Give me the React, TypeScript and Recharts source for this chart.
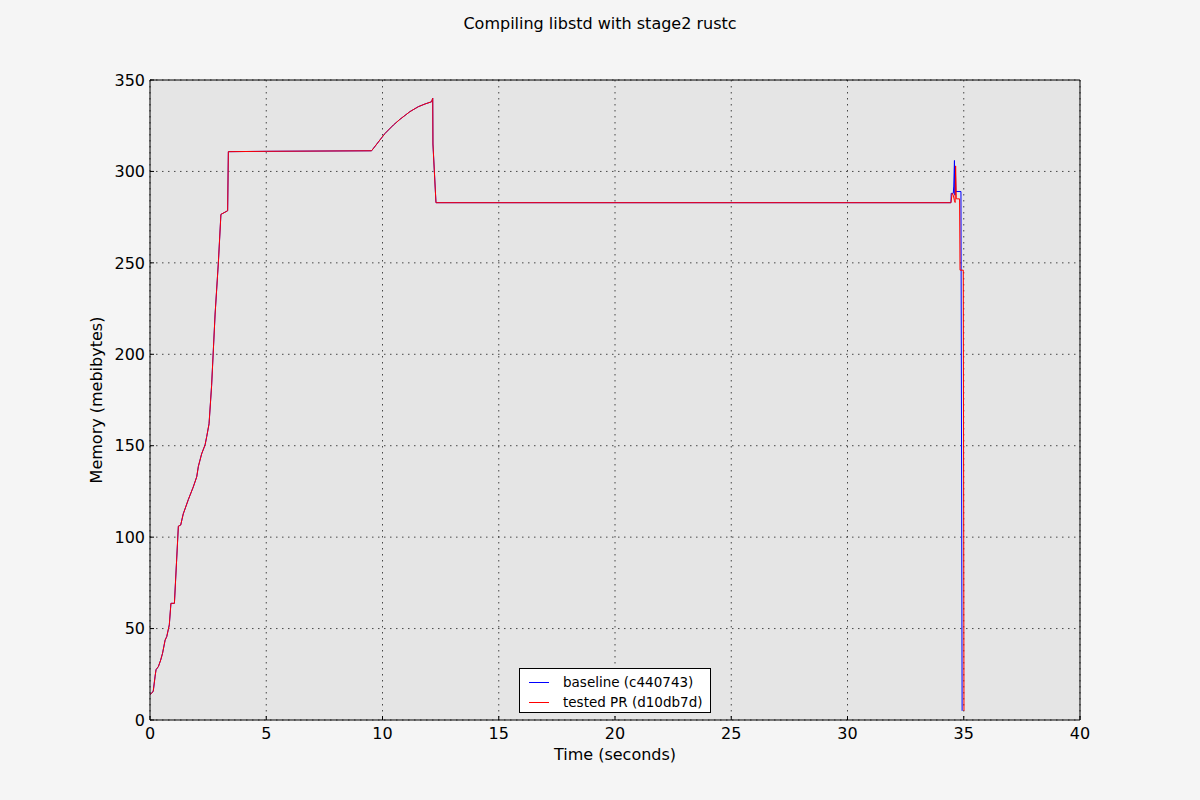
import { LineChart, Line, XAxis, YAxis, CartesianGrid, Legend } from "recharts";

// shared part of the run: both builds follow the same curve until ~34.4s
const rampTime = [
  0, 0.07, 0.14, 0.22, 0.26, 0.36, 0.46, 0.54, 0.65, 0.72, 0.83, 0.9, 1.05,
  1.22, 1.32, 1.43, 1.65, 1.86, 2.01, 2.08, 2.22, 2.37, 2.44, 2.54, 2.65, 2.8,
  2.94, 3.05, 3.34, 3.37, 5.0, 9.53, 9.89, 10.11, 10.47, 10.75, 11.18, 11.54,
  11.83, 12.11, 12.16, 12.17, 12.3, 34.45,
];
const rampMem = [
  14, 14.6, 15.8, 24, 27.5, 29.2, 32.8, 36.5, 43.7, 45.6, 52, 63.8, 63.8, 106,
  106.6, 112.7, 120.6, 127.4, 133, 138.7, 145.5, 150.5, 155, 162, 183, 222,
  250, 276.5, 278.5, 310.8, 311, 311.3, 317.2, 320.8, 325.4, 328.5, 332.7,
  335.4, 336.9, 338.1, 340, 315, 282.9, 282.9,
];

// end of the run, where the two builds differ
const baselineTailTime = [34.46, 34.55, 34.57, 34.6, 34.62, 34.64, 34.66, 34.88, 34.93];
const baselineTailMem = [288, 288, 292, 306, 287, 303, 289, 289, 5];

const testedTailTime = [34.5, 34.55, 34.6, 34.63, 34.65, 34.68, 34.82, 34.84, 34.98, 35.01];
const testedTailMem = [288, 287, 284, 283, 303, 285, 285, 246, 246, 5];

const xTicks = [0, 5, 10, 15, 20, 25, 30, 35, 40];
const yTicks = [0, 50, 100, 150, 200, 250, 300, 350];

const seriesNames = ["baseline (c440743)", "tested PR (d10db7d)"];
const seriesColors = ["#0000ff", "#ff0000"];

const toPoints = (times: number[], mems: number[]) =>
  times.map((t, i) => ({ t, mem: mems[i] }));

const baselineData = toPoints(
  [...rampTime, ...baselineTailTime],
  [...rampMem, ...baselineTailMem]
);
const testedData = toPoints(
  [...rampTime, ...testedTailTime],
  [...rampMem, ...testedTailMem]
);

const FONT = "'DejaVu Sans', sans-serif";
const tickStyle = { fontSize: 16, fill: "#000", fontFamily: FONT };

const renderLegend = () => (
  <div
    style={{
      width: 192,
      height: 45,
      boxSizing: "border-box",
      border: "1px solid #000",
      background: "#fff",
      paddingTop: 3,
      fontFamily: FONT,
      fontSize: 13.5,
      color: "#000",
    }}
  >
    {seriesNames.map((name, i) => (
      <div
        key={name}
        style={{ display: "flex", alignItems: "center", height: 20 }}
      >
        <div
          style={{
            width: 20,
            height: 1,
            background: seriesColors[i],
            marginLeft: 9,
            marginRight: 14,
            flex: "none",
          }}
        />
        <span>{name}</span>
      </div>
    ))}
  </div>
);

export default function App() {
  return (
    <div
      style={{
        position: "absolute",
        left: 0,
        top: 0,
        width: 1200,
        height: 800,
        background: "#f5f5f5",
      }}
    >
      <div
        style={{
          position: "absolute",
          top: 14,
          left: 0,
          width: 1200,
          textAlign: "center",
          fontFamily: FONT,
          fontSize: 16,
          color: "#000",
        }}
      >
        Compiling libstd with stage2 rustc
      </div>
      <LineChart
        width={1200}
        height={800}
        margin={{ top: 70, right: 110, left: 90, bottom: 35 }}
      >
        <CartesianGrid
          fill="#e5e5e5"
          stroke="#000"
          strokeWidth={0.7}
          strokeDasharray="1.5 4.5"
        />
        <XAxis
          type="number"
          dataKey="t"
          domain={[0, 40]}
          ticks={xTicks}
          allowDataOverflow
          height={45}
          stroke="#000"
          tickSize={-4}
          tickMargin={12}
          tick={tickStyle}
          label={{
            value: "Time (seconds)",
            position: "insideBottom",
            offset: 5,
            style: { fontSize: 16, fill: "#000", fontFamily: FONT },
          }}
        />
        <XAxis
          xAxisId="top"
          orientation="top"
          type="number"
          domain={[0, 40]}
          ticks={xTicks}
          height={10}
          stroke="#000"
          tickSize={-4}
          tick={false}
        />
        <YAxis
          type="number"
          domain={[0, 350]}
          ticks={yTicks}
          allowDataOverflow
          width={60}
          stroke="#000"
          tickSize={-4}
          tickMargin={9}
          tick={tickStyle}
          label={{
            value: "Memory (mebibytes)",
            angle: -90,
            position: "insideLeft",
            offset: 6,
            style: {
              fontSize: 16,
              fill: "#000",
              fontFamily: FONT,
              textAnchor: "middle",
            },
          }}
        />
        <YAxis
          yAxisId="right"
          orientation="right"
          type="number"
          domain={[0, 350]}
          ticks={yTicks}
          width={10}
          stroke="#000"
          tickSize={-4}
          tick={false}
        />
        <Legend
          layout="vertical"
          align="center"
          verticalAlign="middle"
          content={renderLegend}
          wrapperStyle={{ left: 519, top: 668, width: 192 }}
        />
        <Line
          data={baselineData}
          dataKey="mem"
          name={seriesNames[0]}
          type="linear"
          stroke={seriesColors[0]}
          strokeWidth={1}
          dot={false}
          isAnimationActive={false}
        />
        <Line
          data={testedData}
          dataKey="mem"
          name={seriesNames[1]}
          type="linear"
          stroke={seriesColors[1]}
          strokeWidth={1}
          dot={false}
          isAnimationActive={false}
        />
      </LineChart>
    </div>
  );
}
